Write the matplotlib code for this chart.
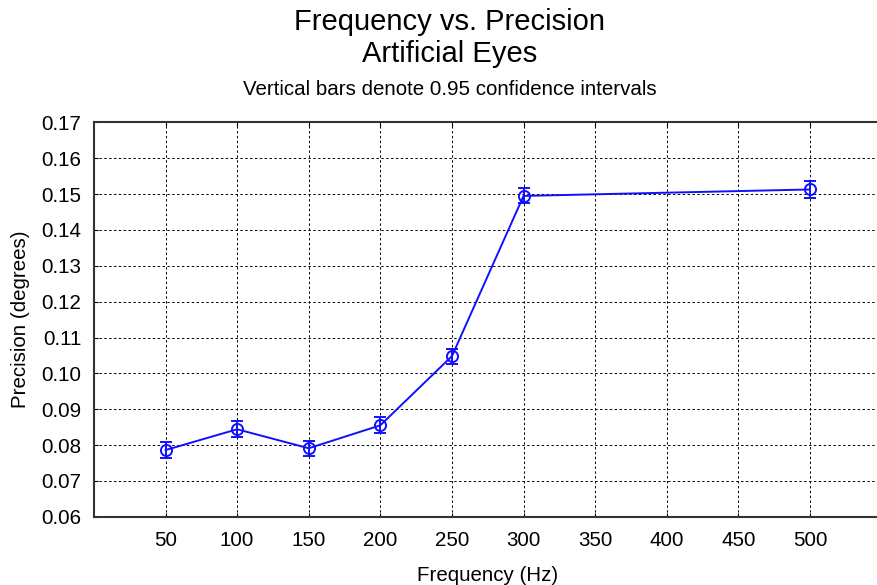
import numpy as np
import matplotlib.pyplot as plt

plt.rcParams['font.family'] = ['Liberation Sans', 'DejaVu Sans']

# Mean precision per sampling frequency, with 95% CI half-widths
freq = [50, 100, 150, 200, 250, 300, 500]
precision = [0.0786, 0.0844, 0.0791, 0.0855, 0.1048, 0.1495, 0.1513]
ci = [0.0022, 0.0022, 0.0021, 0.0022, 0.0021, 0.0021, 0.0023]

xticks = [50, 100, 150, 200, 250, 300, 350, 400, 450, 500]
yticks = np.round(np.arange(0.06, 0.1701, 0.01), 2)

fig = plt.figure(figsize=(8.78, 5.85), dpi=100)
ax = fig.add_axes([0.107, 0.1167, 0.897, 0.674])

ax.errorbar(freq, precision, yerr=ci, color='#1010ff', linewidth=1.4,
            marker='o', markersize=8, markerfacecolor='none',
            markeredgewidth=1.4, ecolor='#1010ff', elinewidth=1.4,
            capsize=4, capthick=1.4, zorder=3)

ax.set_xlim(0, 550)
ax.set_ylim(0.06, 0.17)
ax.set_xticks(xticks)
ax.set_yticks(yticks)
ax.set_yticklabels([f"{v:.2f}" for v in yticks])
ax.tick_params(direction='in', length=3, labelsize=14.8, top=True, pad=9)
ax.tick_params(axis='x', pad=10)

ax.grid(True, color='black', linestyle=(0, (2.5, 2.5)), linewidth=0.7)
ax.spines['right'].set_visible(False)
for s in ['left', 'bottom', 'top']:
    ax.spines[s].set_linewidth(1.5)
    ax.spines[s].set_color('#333333')

ax.set_xlabel("Frequency (Hz)", fontsize=14.8, labelpad=12)
ax.set_ylabel("Precision (degrees)", fontsize=14.8, labelpad=8)

fig.text(0.512, 0.962, "Frequency vs. Precision", ha='center', va='center', fontsize=21)
fig.text(0.512, 0.907, "Artificial Eyes", ha='center', va='center', fontsize=21)
fig.text(0.512, 0.847, "Vertical bars denote 0.95 confidence intervals", ha='center', va='center', fontsize=14.8)

fig.savefig("out.png", dpi=100)
